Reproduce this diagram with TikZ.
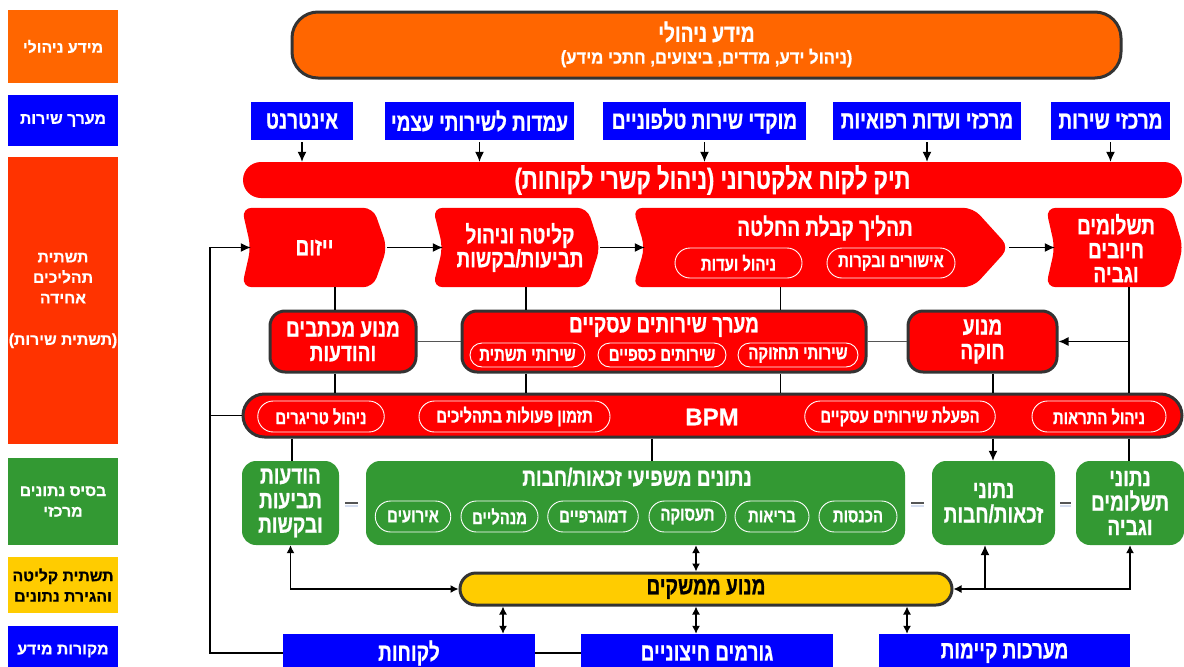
\documentclass[tikz,border=0pt]{standalone}
\usepackage{fontspec}
\usetikzlibrary{arrows.meta,calc,shapes.misc}
\newfontfamily\hefont[Script=Hebrew,BoldFeatures={FakeBold=0.6}]{Liberation Sans}
\newfontfamily\henar[Script=Hebrew,FakeStretch=0.76,BoldFeatures={FakeBold=0.7}]{Liberation Sans}
\newfontfamily\hewide[Script=Hebrew,FakeStretch=0.9,BoldFeatures={FakeBold=0.6}]{Liberation Sans}
\TeXXeTstate=1
\newcommand{\hb}[1]{\beginR#1\endR}
\definecolor{cOrange}{HTML}{FF6600}
\definecolor{cBlue}{HTML}{0000FF}
\definecolor{cRed}{HTML}{FF0000}
\definecolor{cRedL}{HTML}{FF3300}
\definecolor{cGreen}{HTML}{339933}
\definecolor{cYellow}{HTML}{FFCC00}
\definecolor{cBorder}{HTML}{333333}
\definecolor{cGrayLine}{HTML}{555555}
\definecolor{cSep}{HTML}{D4DDF0}
\newcommand{\chev}[3]{%
  \fill[cRed, rounded corners=10] (#1.north west) -- ($(#1.north east)+(-#3,0)$) -- (#1.east)
    -- ($(#1.south east)+(-#3,0)$) -- (#1.south west) -- ($(#1.west)+(#2,0)$) -- cycle;}
\begin{document}
\begin{tikzpicture}[x=1pt,y=-1pt,
  fsL/.style={font=\hefont\bfseries\fontsize{15.8}{20.5}\selectfont},
  fsM/.style={font=\henar\bfseries\fontsize{25}{24.5}\selectfont},
  fsS/.style={font=\henar\bfseries\fontsize{19.5}{20}\selectfont},
  fsB/.style={font=\henar\bfseries\fontsize{29}{30}\selectfont},
  colbox/.style={rectangle, inner sep=0, minimum width=110, text=white, align=center, fsL},
  bbox/.style={rectangle, fill=cBlue, inner sep=0, minimum height=38, text=white, fsM},
  frame/.style={rectangle, inner sep=0, minimum height=79},
  ptxt/.style={text=white, align=center, inner sep=0, fsM},
  rbox/.style={rectangle, rounded corners=15, fill=cRed, draw=cBorder, line width=3,
    inner sep=0, minimum height=61, text=white, align=center, fsM},
  gbox/.style={rectangle, rounded corners=14, fill=cGreen, inner sep=0, minimum height=84,
    text=white, align=center, fsM},
  pill/.style={rounded rectangle, draw=white, line width=0.9, inner sep=0, text=white, fsS},
  line/.style={line width=1.3, draw=black},
  gline/.style={line width=1.5, draw=cGrayLine},
  arr/.style={line, -{Latex[length=10pt,width=9pt]}},
  darr/.style={line, {Latex[length=8pt,width=8pt]}-{Latex[length=8pt,width=8pt]}},
  sep/.style={line width=1.6, draw=cGrayLine}
]
\useasboundingbox (0,0) rectangle (1184,667);

% ---------------- left column ----------------
\node[colbox, fill=cOrange, minimum height=73] (l1) at (63,46.5) {\hb{מידע ניהולי}};
\node[colbox, fill=cBlue, minimum height=51] (l2) at (63,120.5) {\hb{מערך שירות}};
\node[colbox, fill=cRedL, minimum height=287] (l3) at (63,300.5)
  {\hb{תשתית}\\\hb{תהליכים}\\\hb{אחידה}\\[21pt]\hb{(תשתית שירות)}};
\node[colbox, fill=cGreen, minimum height=87] (l4) at (63,501.5) {\hb{בסיס נתונים}\\\hb{מרכזי}};
\node[colbox, fill=cYellow, text=black, minimum height=56] (l5) at (63,585) {\hb{תשתית קליטה}\\\hb{והגירת נתונים}};
\node[colbox, fill=cBlue, minimum height=50] (l6) at (63,651) {\hb{מקורות מידע}};

% ---------------- top ----------------
\node[rectangle, rounded corners=26, fill=cOrange, draw=cBorder, line width=3,
  minimum width=829, minimum height=66, inner sep=0] (top) at (706.5,45) {};
\node[ptxt, font=\henar\bfseries\fontsize{25}{28}\selectfont] (topt1) at (706.5,32) {\hb{מידע ניהולי}};
\node[ptxt, font=\hewide\bfseries\fontsize{18.5}{21}\selectfont] (topt2) at (706.5,58)
  {\hb{(ניהול ידע, מדדים, ביצועים, חתכי מידע)}};

% service channels
\node[bbox, minimum width=102] (b1) at (302,121) {\hb{אינטרנט}};
\node[bbox, minimum width=189] (b2) at (479.5,121) {\hb{עמדות לשירותי עצמי}};
\node[bbox, minimum width=203] (b3) at (704.5,121) {\hb{מוקדי שירות טלפוניים}};
\node[bbox, minimum width=188] (b4) at (927,121) {\hb{מרכזי ועדות רפואיות}};
\node[bbox, minimum width=119] (b5) at (1110.5,121) {\hb{מרכזי שירות}};

\node[rounded rectangle, fill=cRed, minimum width=939, minimum height=36, inner sep=0,
  text=white, fsB] (crm) at (712.5,180) {\hb{תיק לקוח אלקטרוני (ניהול קשרי לקוחות)}};

\foreach \b in {b1,b2,b3,b4,b5}
  \draw[arr] ($(\b.south)+(0,2)$) -- (\b.south |- crm.north);

% ---------------- process row ----------------
\node[frame, minimum width=145] (yz) at (314.5,247.5) {};
\node[frame, minimum width=167] (kl) at (516.5,247.5) {};
\node[frame, minimum width=376] (th) at (821,247.5) {};
\node[frame, minimum width=137] (ts) at (1114.5,247.5) {};
\chev{yz}{9}{14}
\chev{kl}{10}{13}
\chev{th}{12}{36}
\chev{ts}{9}{12}
\node[ptxt] (yzt) at (yz) {\hb{ייזום}};
\node[ptxt, font=\henar\bfseries\fontsize{25}{22}\selectfont] (klt) at (520,247.5) {\hb{קליטה וניהול}\\\hb{תביעות/בקשות}};
\node[ptxt] (tht) at (825,228) {\hb{תהליך קבלת החלטה}};
\node[pill, minimum width=127, minimum height=30] (p1) at (738.5,263) {\hb{ניהול ועדות}};
\node[pill, minimum width=128, minimum height=30] (p2) at (891,263) {\hb{אישורים ובקרות}};
\node[ptxt, font=\henar\bfseries\fontsize{25}{24}\selectfont] (tst) at (1116,248) {\hb{תשלומים}\\\hb{חיובים}\\\hb{וגביה}};

\draw[arr] (yz.east) -- ($(kl.west)+(10,0)$);
\draw[arr] (kl.east) -- ($(th.west)+(12,0)$);
\draw[arr] (th.east) -- ($(ts.west)+(9,0)$);

% ---------------- middle row ----------------
\node[rbox, minimum width=146] (mm) at (343,341.5) {\hb{מנוע מכתבים}\\\hb{והודעות}};
\node[rbox, minimum width=404] (ms) at (664,341.5) {};
\node[ptxt] (mst) at (664,327) {\hb{מערך שירותים עסקיים}};
\node[pill, minimum width=115, minimum height=24] (p3) at (527.5,355) {\hb{שירותי תשתית}};
\node[pill, minimum width=128, minimum height=24] (p4) at (662,355) {\hb{שירותים כספיים}};
\node[pill, minimum width=120, minimum height=24] (p5) at (798,355) {\hb{שירותי תחזוקה}};
\node[rbox, minimum width=149] (mh) at (982.5,341.5) {\hb{מנוע}\\\hb{חוקה}};

% ---------------- BPM ----------------
\node[rounded rectangle, fill=cRed, draw=cBorder, line width=3, minimum width=939,
  minimum height=43, inner sep=0] (bpm) at (712.5,415.5) {};
\node[text=white, inner sep=0, font=\hefont\bfseries\fontsize{24}{26}\selectfont] (bpmt) at (712,417) {BPM};
\node[pill, minimum width=126.5, minimum height=31] (q1) at (321,416.5) {\hb{ניהול טריגרים}};
\node[pill, minimum width=191, minimum height=31] (q2) at (514.5,416.5) {\hb{תזמון פעולות בתהליכים}};
\node[pill, minimum width=190.5, minimum height=31] (q3) at (900,416.5) {\hb{הפעלת שירותים עסקיים}};
\node[pill, minimum width=134, minimum height=31] (q4) at (1099,416.5) {\hb{ניהול התראות}};

% ---------------- green row ----------------
\node[gbox, minimum width=97] (g1) at (290.5,503) {\hb{הודעות}\\\hb{תביעות}\\\hb{ובקשות}};
\node[gbox, minimum width=539] (g2) at (635.5,503) {};
\node[ptxt] (g2t) at (637,477) {\hb{נתונים משפיעי זכאות/חבות}};
\node[pill, minimum width=75.5, minimum height=31] (r1) at (413,516.5) {\hb{אירועים}};
\node[pill, minimum width=77, minimum height=31] (r2) at (499.5,516.5) {\hb{מנהליים}};
\node[pill, minimum width=90.5, minimum height=31] (r3) at (593,516.5) {\hb{דמוגרפיים}};
\node[pill, minimum width=77, minimum height=31] (r4) at (687.5,516.5) {\hb{תעסוקה}};
\node[pill, minimum width=74, minimum height=31] (r5) at (772,516.5) {\hb{בריאות}};
\node[pill, minimum width=78, minimum height=31] (r6) at (858,516.5) {\hb{הכנסות}};
\node[gbox, minimum width=123] (g3) at (993.5,503) {\hb{נתוני}\\\hb{זכאות/חבות}};
\node[gbox, minimum width=108] (g4) at (1130,503) {\hb{נתוני}\\\hb{תשלומים}\\\hb{וגביה}};

% ---------------- interface engine & sources ----------------
\node[rounded rectangle, fill=cYellow, draw=cBorder, line width=3, minimum width=492,
  minimum height=32, inner sep=0, text=black, fsM] (ym) at (706,589) {\hb{מנוע ממשקים}};
\node[bbox, minimum width=252] (k1) at (409,653) {\hb{לקוחות}};
\node[bbox, minimum width=252] (k2) at (707,653) {\hb{גורמים חיצוניים}};
\node[bbox, minimum width=251] (k3) at (1004.5,653) {\hb{מערכות קיימות}};

% ---------------- connectors ----------------
\coordinate (vL) at (210,0);
\coordinate (v335) at (335,0);
\coordinate (v526) at (526,0);
\coordinate (v780) at (780.5,0);
\coordinate (v993) at (993,0);
\coordinate (v1129) at (1129,0);
\coordinate (v292) at (292,0);
\coordinate (v652) at (652,0);
\coordinate (v985) at (985,0);
\coordinate (v696) at (696,0);
\coordinate (v503) at (503,0);
\coordinate (v907) at (907,0);

\draw[arr] (k1.west) -| (vL |- yz) -- ($(yz.west)+(9,0)$);
\draw[line] (vL |- bpm.west) -- (bpm.west);

\draw[line] (v335 |- yz.south) -- (v335 |- mm.north);
\draw[line] (v335 |- mm.south) -- (v335 |- bpm.north);
\draw[line] (v526 |- kl.south) -- (v526 |- ms.north);
\draw[line] (v526 |- ms.south) -- (v526 |- bpm.north);
\draw[line] (v780 |- th.south) -- (v780 |- ms.north);
\draw[line] (v780 |- ms.south) -- (v780 |- bpm.north);
\draw[line] (v993 |- mh.south) -- (v993 |- bpm.north);
\draw[line] (v1129 |- ts.south) -- (v1129 |- bpm.north);
\draw[arr] (v1129 |- mh.east) -- (mh.east);
\draw[gline] (mm.east) -- (ms.west);
\draw[gline] (ms.east) -- (mh.west);

\draw[line] (v292 |- bpm.south) -- (v292 |- g1.north);
\draw[line] (v652 |- bpm.south) -- (v652 |- g2.north);
\draw[arr] (v993 |- bpm.south) -- (v993 |- g3.north);
\draw[line] (v1129 |- bpm.south) -- (v1129 |- g4.north);

\draw[sep] ($(g1.east)+(6,0)$) -- ($(g2.west)+(-8,0)$);
\draw[sep] ($(g2.east)+(6,0)$) -- ($(g3.west)+(-8,0)$);
\draw[sep] ($(g3.east)+(5,0)$) -- ($(g4.west)+(-5,0)$);
\draw[cSep, line width=1.5] ($(g1.east)+(6,3)$) -- ($(g2.west)+(-8,3)$);
\draw[cSep, line width=1.5] ($(g2.east)+(6,3)$) -- ($(g3.west)+(-8,3)$);
\draw[cSep, line width=1.5] ($(g3.east)+(5,3)$) -- ($(g4.west)+(-5,3)$);

\draw[darr] (g1.south) |- (ym.west);
\draw[darr] (g4.south) |- (ym.east);
\draw[arr] (v985 |- ym.east) -- (v985 |- g3.south);
\draw[darr] (v696 |- ym.north) -- (v696 |- g2.south);
\draw[darr] (v503 |- ym.south) -- (v503 |- k1.north);
\draw[darr] (v696 |- ym.south) -- (v696 |- k2.north);
\draw[darr] (v907 |- ym.south) -- (v907 |- k3.north);
\draw[line] (k1.east) -- (k2.west);
\end{tikzpicture}
\end{document}
